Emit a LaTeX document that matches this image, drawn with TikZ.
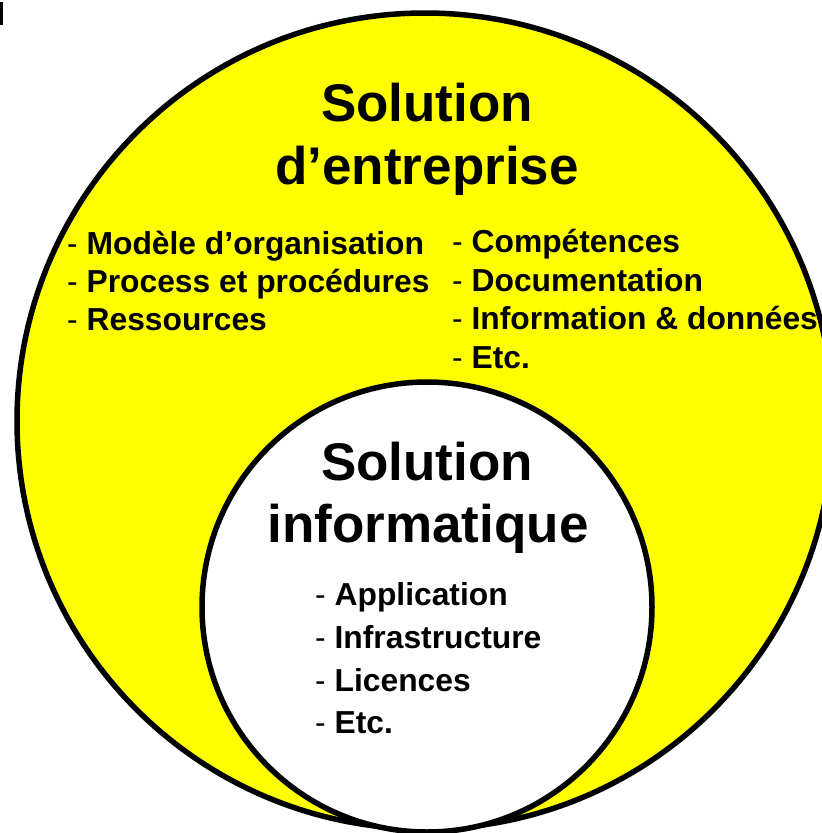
\documentclass[tikz,border=0pt]{standalone}
\usepackage{fontspec}
\setmainfont{Liberation Sans}
\definecolor{ylw}{RGB}{255,255,0}
\begin{document}
\begin{tikzpicture}[x=1pt,y=-1pt,
  circ/.style={draw=black,line width=5.5pt},
  title/.style={font=\fontsize{53}{61}\selectfont\bfseries,inner sep=0pt,anchor=base},
  item/.style={font=\fontsize{31.8}{39}\selectfont\bfseries,inner sep=0pt,anchor=base west}]
\useasboundingbox (0,0) rectangle (822,833);
\clip (0,0) rectangle (822,833);
\fill[white] (0,0) rectangle (822,833);
\fill[black] (0,2) rectangle (2.5,25);
% outer circle
\draw[circ,fill=ylw] (425,421) circle[radius=408];
% inner circle
\draw[circ,fill=white] (427,607) circle[radius=225];
% titles
\node[title] (t1) at (427,121) {Solution};
\node[title] (t2) at (427,184) {d’entreprise};
\node[title] (t3) at (427,480) {Solution};
\node[title] (t4) at (428,542) {informatique};
% left list
\node[item] (a1) at (67,254) {{\mdseries -} Modèle d’organisation};
\node[item] (a2) at (67,292) {{\mdseries -} Process et procédures};
\node[item] (a3) at (67,330) {{\mdseries -} Ressources};
% right list
\node[item] (b1) at (452,252) {{\mdseries -} Compétences};
\node[item] (b2) at (452,291) {{\mdseries -} Documentation};
\node[item] (b3) at (452,329) {{\mdseries -} Information \& données};
\node[item] (b4) at (452,368) {{\mdseries -} Etc.};
% inner list
\node[item] (c1) at (315,605) {{\mdseries -} Application};
\node[item] (c2) at (315,648) {{\mdseries -} Infrastructure};
\node[item] (c3) at (315,691) {{\mdseries -} Licences};
\node[item] (c4) at (315,733) {{\mdseries -} Etc.};
\end{tikzpicture}
\end{document}
